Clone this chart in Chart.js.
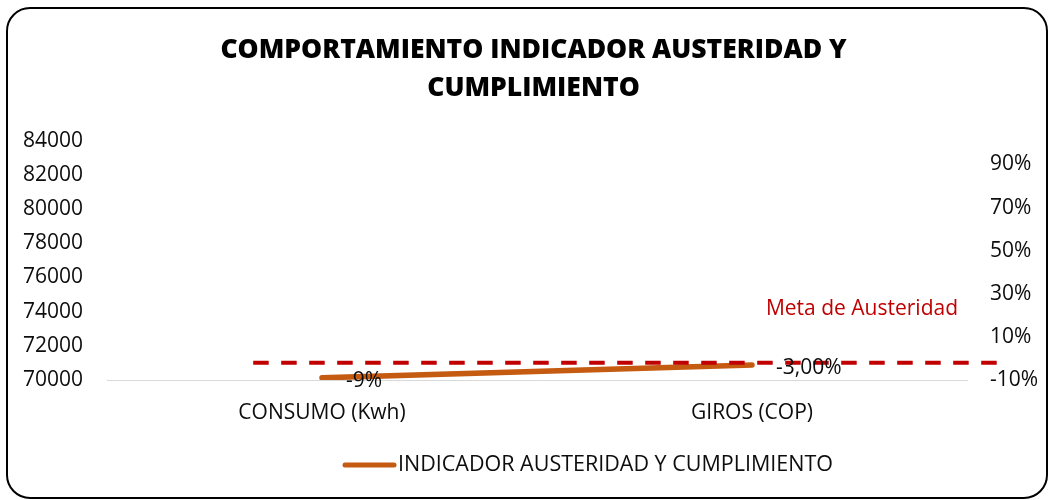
<!DOCTYPE html>
<html>
<head>
<meta charset="utf-8">
<script src="https://cdn.jsdelivr.net/npm/chart.js@4.4.0/dist/chart.umd.min.js"></script>
<style>
  html, body { margin: 0; padding: 0; background: #fff; }
  #wrap { position: relative; width: 1049px; height: 500px; overflow: hidden; }
  #c { position: absolute; left: 0; top: 0; }
  #frame {
    position: absolute; left: 6px; top: 7px; width: 1042px; height: 492px;
    border: 2.5px solid #000; border-radius: 24px; box-sizing: border-box; pointer-events: none;
  }
</style>
</head>
<body>
<div id="wrap">
  <canvas id="c" width="1049" height="500"></canvas>
  <div id="frame"></div>
</div>
<script>
// Categories and series
const categories = ['CONSUMO (Kwh)', 'GIROS (COP)'];
const indicador = [-0.09, -0.03];
const indicadorLabels = ['-9%', '-3,00%'];
const seriesName = 'INDICADOR AUSTERIDAD Y CUMPLIMIENTO';

// Target line (austerity goal), drawn across the plot in category units
const metaAusteridad = -0.02;
const metaDesde = 0.34;
const metaHasta = 2.07;
const metaTexto = 'Meta de Austeridad';

// Axis ticks
const leftTicks = [70000, 72000, 74000, 76000, 78000, 80000, 82000, 84000];
const rightTicks = [-0.1, 0.1, 0.3, 0.5, 0.7, 0.9];

const FONT = '"Open Sans", "DejaVu Sans", sans-serif';
const TEXT = '#0d0d0d';
const ORANGE = '#C55A11';
const RED = '#C00000';

// Value labels next to each point of the indicator line
const valueLabels = {
  id: 'valueLabels',
  afterDatasetsDraw(chart) {
    const meta = chart.getDatasetMeta(0);
    const ctx = chart.ctx;
    ctx.save();
    ctx.font = '21px ' + FONT;
    ctx.fillStyle = TEXT;
    ctx.textAlign = 'left';
    ctx.textBaseline = 'middle';
    meta.data.forEach((pt, i) => {
      ctx.fillText(indicadorLabels[i], pt.x + 24, pt.y + 3);
    });
    // goal caption above the dashed line
    const yr = chart.scales.yr;
    ctx.font = '21px ' + FONT;
    ctx.fillStyle = RED;
    ctx.textAlign = 'right';
    ctx.fillText(metaTexto, chart.chartArea.right - 9, yr.getPixelForValue(metaAusteridad) - 54);
    ctx.restore();
  }
};

// Legend entry below the x axis
const legendBelow = {
  id: 'legendBelow',
  afterDraw(chart) {
    const ds = chart.data.datasets[0];
    const ctx = chart.ctx;
    const y = 465;
    ctx.save();
    ctx.strokeStyle = ds.borderColor;
    ctx.lineWidth = 5;
    ctx.lineCap = 'round';
    ctx.beginPath();
    ctx.moveTo(345, y);
    ctx.lineTo(394, y);
    ctx.stroke();
    ctx.font = '21.5px ' + FONT;
    ctx.fillStyle = TEXT;
    ctx.textAlign = 'left';
    ctx.textBaseline = 'middle';
    ctx.fillText(ds.label, 398, y);
    ctx.restore();
  }
};

new Chart(document.getElementById('c'), {
  data: {
    labels: categories,
    datasets: [
      {
        type: 'line',
        label: seriesName,
        data: indicador,
        xAxisID: 'x',
        yAxisID: 'yr',
        borderColor: ORANGE,
        borderWidth: 5.5,
        borderCapStyle: 'round',
        pointRadius: 0,
        pointHoverRadius: 0,
        tension: 0,
        order: 1
      },
      {
        type: 'line',
        label: metaTexto,
        data: [{ x: metaDesde, y: metaAusteridad }, { x: metaHasta, y: metaAusteridad }],
        xAxisID: 'xm',
        yAxisID: 'yr',
        borderColor: RED,
        borderWidth: 4,
        borderDash: [15.5, 12.5],
        pointRadius: 0,
        pointHoverRadius: 0,
        clip: false,
        order: 0
      }
    ]
  },
  options: {
    responsive: false,
    animation: false,
    events: [],
    layout: { padding: { left: 18, right: 0, top: 0, bottom: 0 } },
    plugins: {
      legend: { display: false },
      tooltip: { enabled: false },
      title: {
        display: true,
        text: ['COMPORTAMIENTO INDICADOR AUSTERIDAD Y', 'CUMPLIMIENTO'],
        color: '#000',
        font: { family: FONT, size: 26.5, weight: '800', lineHeight: 1.43 },
        padding: { top: 32, bottom: 33 }
      }
    },
    scales: {
      x: {
        type: 'category',
        position: 'bottom',
        offset: true,
        grid: { display: false, drawTicks: false },
        border: { display: true, color: '#d9d9d9', width: 1 },
        ticks: { color: TEXT, font: { family: FONT, size: 21 }, padding: 20, maxRotation: 0 },
        afterFit(s) { s.height = 120; }
      },
      xm: {
        type: 'linear',
        display: false,
        min: 0,
        max: 2
      },
      y: {
        type: 'linear',
        position: 'left',
        min: 70000,
        max: 84000,
        grid: { display: false, drawTicks: false },
        border: { display: false },
        ticks: {
          stepSize: 2000,
          color: TEXT,
          font: { family: FONT, size: 21 },
          padding: 24,
          callback: v => String(v)
        },
        afterBuildTicks(s) { s.ticks = leftTicks.map(v => ({ value: v })); },
        afterFit(s) { s.width = 89; }
      },
      yr: {
        type: 'linear',
        position: 'right',
        min: -0.1,
        max: 1.01,
        grid: { display: false, drawTicks: false },
        border: { display: false },
        ticks: {
          color: TEXT,
          font: { family: FONT, size: 21 },
          padding: 23,
          callback: v => Math.round(v * 100) + '%'
        },
        afterBuildTicks(s) { s.ticks = rightTicks.map(v => ({ value: v })); },
        afterFit(s) { s.width = 82; }
      }
    }
  },
  plugins: [valueLabels, legendBelow]
});
</script>
</body>
</html>
